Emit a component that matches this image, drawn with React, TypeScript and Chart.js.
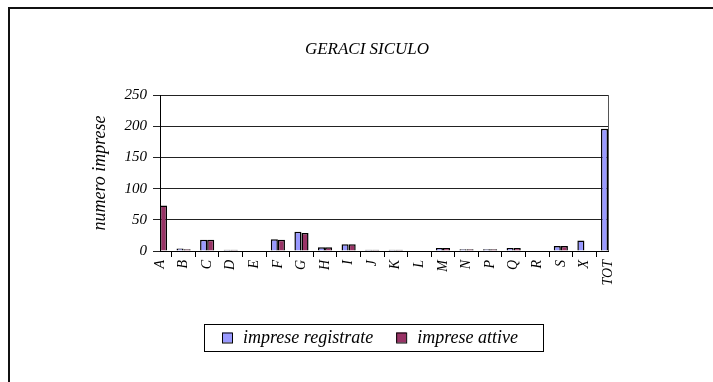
import React, { useEffect, useRef } from "react";
import { Chart, registerables } from "chart.js";

Chart.register(...registerables);

const categories = ["A", "B", "C", "D", "E", "F", "G", "H", "I", "J", "K", "L", "M", "N", "P", "Q", "R", "S", "X", "TOT"];
const impreseRegistrate = [60, 4, 18, 2, 0, 19, 31, 6, 11, 2, 2, 0, 5, 3, 3, 5, 0, 8, 17, 196];
const impreseAttive = [73, 3, 18, 2, 0, 18, 29, 6, 11, 2, 2, 0, 5, 3, 3, 5, 0, 8, 1, 0];
const seriesLabels = ["imprese registrate", "imprese attive"];
const yTicks = [0, 50, 100, 150, 200, 250];
const chartTitle = "GERACI SICULO";
const yAxisTitle = "numero imprese";

const W = 713;
const H = 382;
const SERIF = "'Liberation Serif', 'Times New Roman', serif";
const BLUE = "#9999FF";
const RED = "#993366";

const framePlugin = {
  id: "frame",
  beforeDraw(chart: any) {
    const ctx = chart.ctx;
    ctx.save();
    ctx.fillStyle = "#ffffff";
    ctx.fillRect(0, 0, chart.width, chart.height);
    ctx.strokeStyle = "#111";
    ctx.lineWidth = 2;
    ctx.beginPath();
    ctx.moveTo(9, chart.height);
    ctx.lineTo(9, 8);
    ctx.lineTo(chart.width, 8);
    ctx.stroke();
    // chart title
    ctx.fillStyle = "#000";
    ctx.font = "italic 17px " + SERIF;
    ctx.textAlign = "center";
    ctx.textBaseline = "alphabetic";
    ctx.fillText(chartTitle, 367, 54);
    ctx.restore();
  },
  afterDatasetsDraw(chart: any) {
    const { ctx, chartArea } = chart;
    ctx.save();
    ctx.strokeStyle = "#555";
    ctx.lineWidth = 1;
    ctx.beginPath();
    ctx.moveTo(Math.round(chartArea.right) + 0.5, chartArea.top);
    ctx.lineTo(Math.round(chartArea.right) + 0.5, chartArea.bottom);
    ctx.stroke();
    ctx.restore();
  },
  afterDraw(chart: any) {
    const ctx = chart.ctx;
    const boxL = 204, boxT = 324, boxW = 339, boxH = 27;
    ctx.save();
    ctx.strokeStyle = "#000";
    ctx.lineWidth = 1;
    ctx.strokeRect(boxL + 0.5, boxT + 0.5, boxW, boxH);
    ctx.font = "italic 18px " + SERIF;
    ctx.textBaseline = "middle";
    ctx.textAlign = "left";
    const cy = boxT + boxH / 2;
    let x = 222;
    chart.data.datasets.forEach((ds: any) => {
      ctx.fillStyle = ds.backgroundColor;
      ctx.fillRect(x, cy - 5, 10, 10);
      ctx.strokeStyle = "#000";
      ctx.strokeRect(x + 0.5, cy - 5 + 0.5, 10, 10);
      ctx.fillStyle = "#000";
      ctx.fillText(ds.label, x + 21, cy + 1);
      x += 21 + ctx.measureText(ds.label).width + 23;
    });
    ctx.restore();
  },
};

export default function App() {
  const ref = useRef<HTMLCanvasElement | null>(null);
  useEffect(() => {
    if (!ref.current) return;
    const chart = new Chart(ref.current, {
      type: "bar",
      data: {
        labels: categories,
        datasets: [
          {
            label: seriesLabels[0],
            data: impreseRegistrate,
            backgroundColor: BLUE,
            borderColor: "#000",
            borderWidth: 1.5,
            categoryPercentage: 0.6,
            barPercentage: 1,
            clip: 0,
          },
          {
            label: seriesLabels[1],
            data: impreseAttive,
            backgroundColor: RED,
            borderColor: "#000",
            borderWidth: 1.5,
            categoryPercentage: 0.6,
            barPercentage: 1,
            clip: 0,
          },
        ],
      },
      options: {
        responsive: false,
        animation: false,
        devicePixelRatio: 1,
        layout: { padding: { top: 95, left: 0, right: W - 608, bottom: 0 } },
        plugins: {
          legend: { display: false },
          tooltip: { enabled: false },
          title: { display: false },
        },
        scales: {
          x: {
            offset: false,
            grid: { display: true, drawOnChartArea: false, drawTicks: true, tickLength: 6, color: "#000" },
            border: { display: true, color: "#000", width: 1 },
            ticks: {
              autoSkip: false,
              minRotation: 90,
              maxRotation: 90,
              padding: 3,
              color: "#000",
              font: { family: SERIF, size: 14, style: "italic" },
            },
            afterFit(scale: any) {
              scale.height = H - 251;
            },
          },
          y: {
            min: 0,
            max: 250,
            afterBuildTicks(scale: any) {
              scale.ticks = yTicks.map((v) => ({ value: v }));
            },
            grid: { color: "#222", lineWidth: 1, tickLength: 7, drawTicks: true },
            border: { display: true, color: "#000", width: 1 },
            ticks: {
              padding: 6,
              color: "#000",
              font: { family: SERIF, size: 15, style: "italic" },
            },
            title: {
              display: true,
              text: yAxisTitle,
              color: "#000",
              font: { family: SERIF, size: 18, style: "italic" },
              padding: { top: 89, bottom: 0 },
            },
            afterFit(scale: any) {
              scale.width = 160;
            },
          },
        },
      },
      plugins: [framePlugin],
    } as any);
    return () => chart.destroy();
  }, []);
  return (
    <div style={{ position: "fixed", left: 0, top: 0, width: W, height: H, background: "#fff" }}>
      <canvas ref={ref} width={W} height={H} style={{ width: W, height: H, display: "block" }} />
    </div>
  );
}
